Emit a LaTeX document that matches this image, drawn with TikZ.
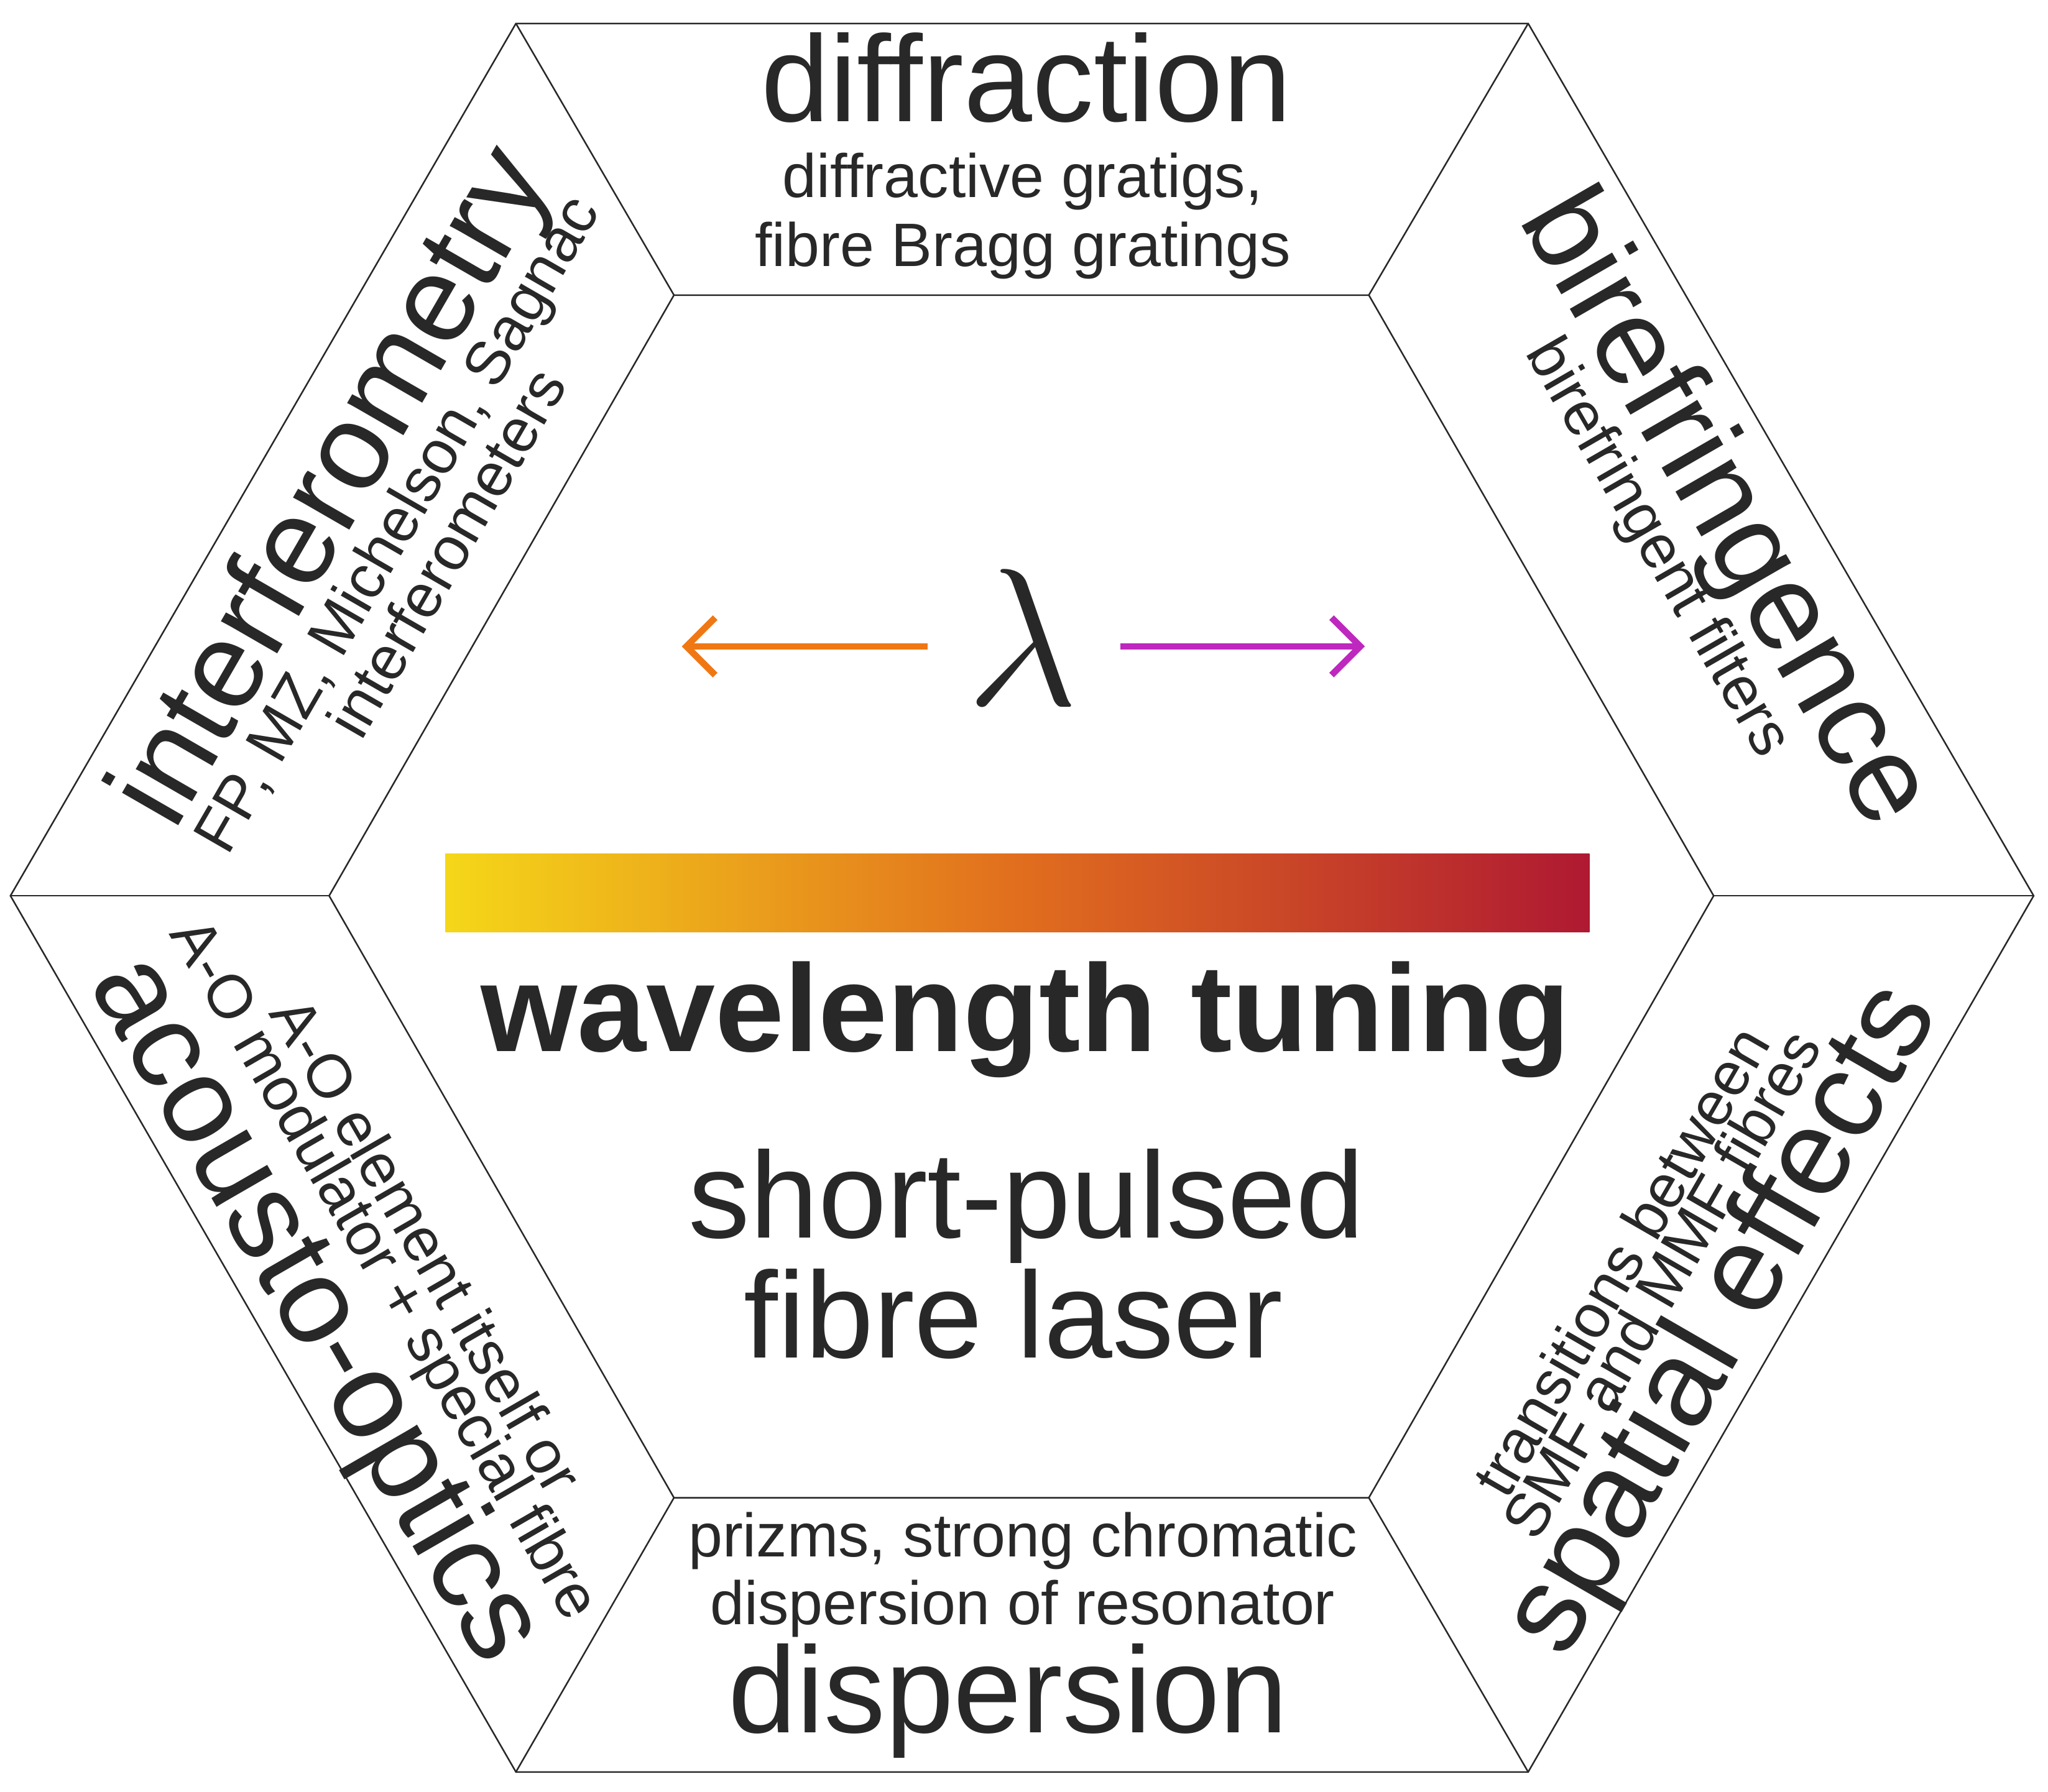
\RequirePackage{fix-cm}
\documentclass[tikz,border=0pt]{standalone}
\usepackage{fontspec}
\setmainfont{Liberation Sans}
\usetikzlibrary{arrows.meta}
\definecolor{txt}{RGB}{40,40,40}
\definecolor{arrO}{RGB}{240,120,20}
\definecolor{arrM}{RGB}{190,40,190}
\definecolor{gY}{RGB}{245,215,25}
\definecolor{gO}{RGB}{225,110,30}
\definecolor{gR}{RGB}{175,25,50}
\newcommand{\fsz}[2]{\fontsize{#1}{#2}\selectfont}
\tikzset{edge/.style={draw=txt,line width=1.2pt},
 big/.style={text=txt,font=\fsz{94}{94},anchor=base},
 sub/.style={text=txt,font=\fsz{47}{56},anchor=base},
 arr/.style={line width=5pt,-{Straight Barb[length=22pt,width=44pt,line width=5pt]}}}
\begin{document}
\begin{tikzpicture}[x=1pt,y=-1pt]
\useasboundingbox (0,0) rectangle (1568,1372);
\coordinate (o1) at (395,18); \coordinate (o2) at (1170,18); \coordinate (o3) at (1557,686);
\coordinate (o4) at (1170,1357); \coordinate (o5) at (395,1357); \coordinate (o6) at (8,686);
\coordinate (i1) at (516,226); \coordinate (i2) at (1048,226); \coordinate (i3) at (1312,686);
\coordinate (i4) at (1048,1147); \coordinate (i5) at (516,1147); \coordinate (i6) at (252,686);
\draw[edge] (o1)--(o2)--(o3)--(o4)--(o5)--(o6)--cycle;
\draw[edge] (i1)--(i2)--(i3)--(i4)--(i5)--(i6)--cycle;
\foreach \k in {1,...,6} \draw[edge] (o\k)--(i\k);
% top
\node[big] (dif) at (786,93) {diffraction};
\node[sub] (difs1) at (783,151) {diffractive gratigs,};
\node[sub] (difs2) at (783,204) {fibre Bragg gratings};
% bottom
\node[sub] (disps1) at (783,1192) {prizms, strong chromatic};
\node[sub] (disps2) at (783,1244) {dispersion of resonator};
\node[big] (disp) at (772,1327) {dispersion};
% left upper
\node[text=txt,align=center,rotate=60] (intf) at (288,392)
 {{\fsz{94}{94}interferometry}\\[-10pt]{\fsz{47}{54}FP, MZ, Michelson, Sagnac}\\{\fsz{47}{54}interferometers}};
% right upper
\node[text=txt,align=center,rotate=-60] (bir) at (1303,400)
 {{\fsz{94}{94}birefringence}\\[-8pt]{\fsz{47}{54}birefringent filters}};
% right lower
\node[text=txt,align=center,rotate=60] (spa) at (1292,995)
 {{\fsz{47}{54}transitions between}\\{\fsz{47}{54}SMF and MMF fibres}\\[-6pt]{\fsz{94}{94}spatial effects}};
% left lower
\node[text=txt,align=center,rotate=-60] (ao) at (272,985)
 {{\fsz{47}{54}A-O element itself or}\\{\fsz{47}{54}A-O modulator + special fibre}\\[-6pt]{\fsz{94}{94}acousto-optics}};
% center
\node[text=txt,font=\fsz{150}{150}] (lam) at (783,488) {$\lambda$};
\coordinate (la) at (522,495); \coordinate (ra) at (1045,495);
\draw[arr,arrO] (710,495) -- (la);
\draw[arr,arrM] (858,495) -- (ra);
\shade[left color=gY,right color=gR,middle color=gO] (341,654) rectangle (1217,714);
\node[text=txt,font=\bfseries\fsz{95}{95},anchor=base] (wt) at (785,805) {wavelength tuning};
\node[text=txt,font=\fsz{94}{94},anchor=base] (sp1) at (786,948) {short-pulsed};
\node[text=txt,font=\fsz{94}{94},anchor=base] (sp2) at (776,1040) {fibre laser};
\end{tikzpicture}
\end{document}
